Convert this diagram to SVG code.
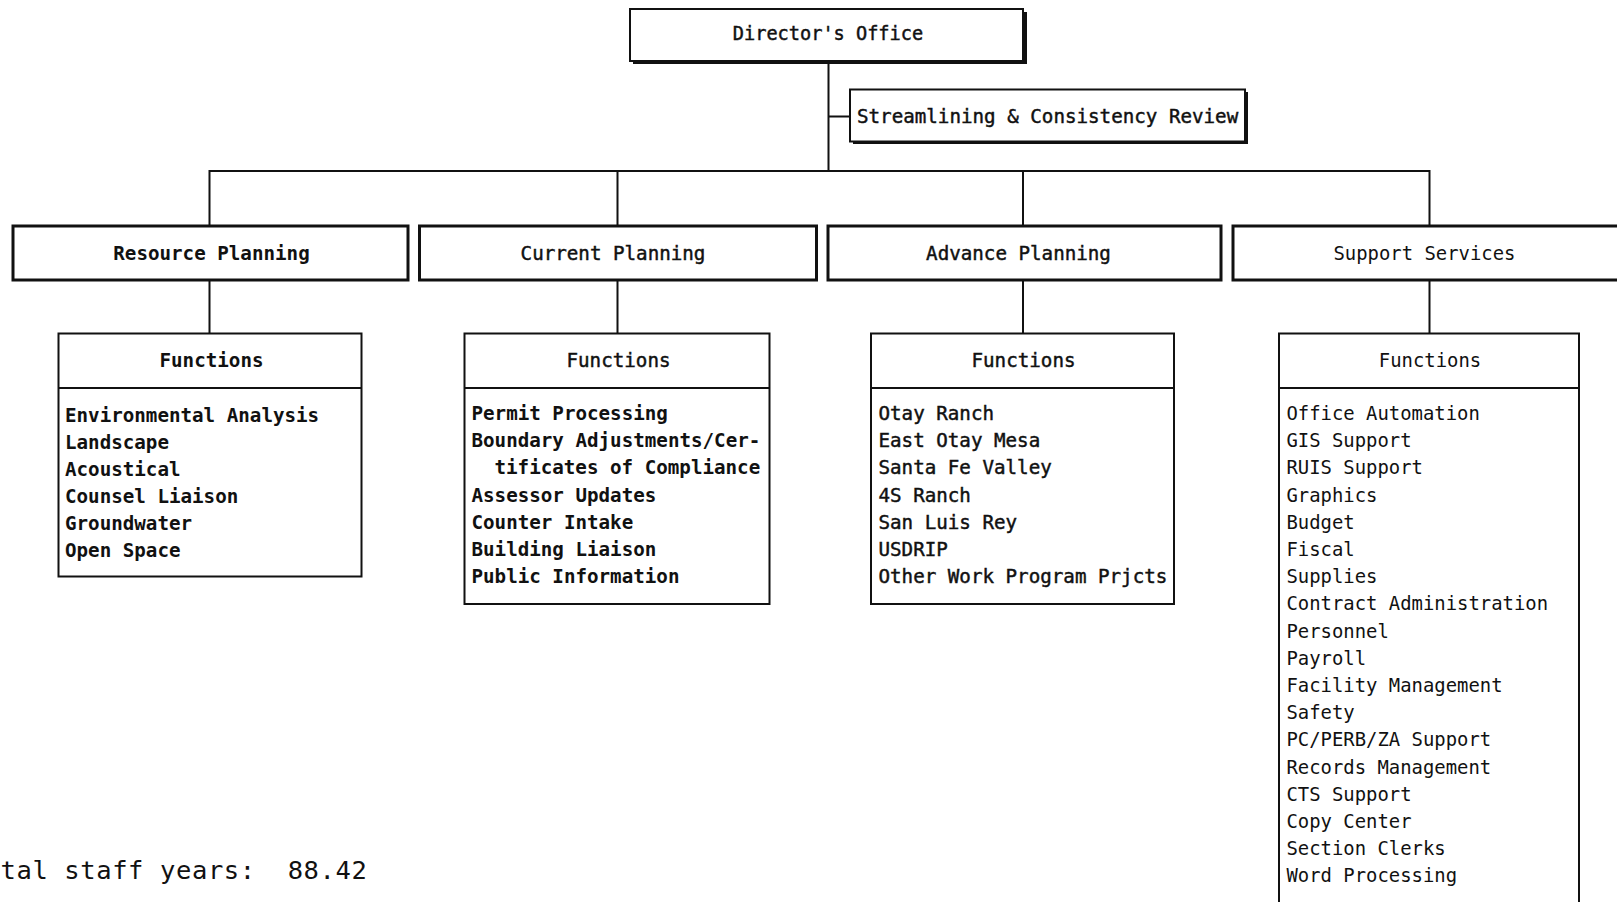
<svg xmlns="http://www.w3.org/2000/svg" width="1617" height="902" viewBox="0 0 1617 902">
  <style>
    text { font-family: "DejaVu Sans Mono", "Liberation Mono", monospace; font-size: 19.2px; fill: #111; }
    .c { text-anchor: middle; }
    .b { font-weight: bold; }
    .m { stroke: #111; stroke-width: 0.45px; }
    .s { font-size: 18.9px; }
    .box { fill: #fff; stroke: #111; stroke-width: 2px; }
    .unit { fill: #fff; stroke: #111; stroke-width: 3px; }
    .shadow { fill: #111; }
    .rule { stroke: #111; stroke-width: 2px; }
    .wire { fill: none; stroke: #111; stroke-width: 2px; }
  </style>

  <!-- connectors -->
  <g id="connectors">
    <path class="wire" d="M828.5 62 V171 M828.5 116.5 H850"/>
    <path class="wire" d="M209.5 226 V171 H1429.5 V226 M617.5 171 V226 M1023 171 V226"/>
    <path class="wire" d="M209.5 280 V333 M617.5 280 V333 M1023 280 V333 M1429.5 280 V333"/>
  </g>

  <!-- top level -->
  <g id="directors-office">
    <rect class="shadow" x="633" y="12" width="394" height="52"/>
    <rect class="box" x="630" y="9" width="393" height="52"/>
    <text class="c m" x="828" y="40" style="font-size:18.6px">Director's Office</text>
  </g>

  <g id="streamlining-review">
    <rect class="shadow" x="853" y="92" width="395" height="52"/>
    <rect class="box" x="850" y="89.5" width="395" height="52"/>
    <text class="m" x="857" y="122.5">Streamlining &amp; Consistency Review</text>
  </g>

  <!-- divisions -->
  <g id="resource-planning">
    <rect class="unit" x="13" y="226" width="395" height="54"/>
    <text class="c b" x="211.5" y="259.5">Resource Planning</text>
  </g>
  <g id="current-planning">
    <rect class="unit" x="419.5" y="226" width="397" height="54"/>
    <text class="c m" x="613" y="259.5">Current Planning</text>
  </g>
  <g id="advance-planning">
    <rect class="unit" x="828" y="226" width="393" height="54"/>
    <text class="c m" x="1018.5" y="259.5">Advance Planning</text>
  </g>
  <g id="support-services">
    <rect class="unit" x="1233" y="226" width="400" height="54"/>
    <text class="c s" x="1424.5" y="259.5">Support Services</text>
  </g>

  <!-- function lists -->
  <g id="resource-planning-functions">
    <rect class="box" x="58.5" y="333.5" width="303" height="243"/>
    <line class="rule" x1="58.5" y1="388" x2="361.5" y2="388"/>
    <text class="c b" x="211.5" y="366.5">Functions</text>
    <text class="b" x="65" y="421.5">Environmental Analysis</text>
    <text class="b" x="65" y="448.5">Landscape</text>
    <text class="b" x="65" y="475.7">Acoustical</text>
    <text class="b" x="65" y="502.9">Counsel Liaison</text>
    <text class="b" x="65" y="530">Groundwater</text>
    <text class="b" x="65" y="557">Open Space</text>
  </g>

  <g id="current-planning-functions">
    <rect class="box" x="464.5" y="333.5" width="305" height="270.5"/>
    <line class="rule" x1="464.5" y1="388" x2="769.5" y2="388"/>
    <text class="c m" x="618.5" y="366.5">Functions</text>
    <text class="b" x="471.5" y="420">Permit Processing</text>
    <text class="b" x="471.5" y="447.2">Boundary Adjustments/Cer-</text>
    <text class="b" x="494.5" y="474.4">tificates of Compliance</text>
    <text class="b" x="471.5" y="501.6">Assessor Updates</text>
    <text class="b" x="471.5" y="528.8">Counter Intake</text>
    <text class="b" x="471.5" y="556">Building Liaison</text>
    <text class="b" x="471.5" y="583.2">Public Information</text>
  </g>

  <g id="advance-planning-functions">
    <rect class="box" x="871" y="333.5" width="303" height="270.5"/>
    <line class="rule" x1="871" y1="388" x2="1174" y2="388"/>
    <text class="c m" x="1023.5" y="366.5">Functions</text>
    <text class="m" x="878.5" y="420">Otay Ranch</text>
    <text class="m" x="878.5" y="447.2">East Otay Mesa</text>
    <text class="m" x="878.5" y="474.4">Santa Fe Valley</text>
    <text class="m" x="878.5" y="501.6">4S Ranch</text>
    <text class="m" x="878.5" y="528.8">San Luis Rey</text>
    <text class="m" x="878.5" y="556">USDRIP</text>
    <text class="m" x="878.5" y="583.2">Other Work Program Prjcts</text>
  </g>

  <g id="support-services-functions">
    <rect class="box" x="1279" y="333.5" width="300" height="600"/>
    <line class="rule" x1="1279" y1="388" x2="1579" y2="388"/>
    <text class="c s" x="1430" y="366.5">Functions</text>
    <text class="s" x="1286.5" y="420">Office Automation</text>
    <text class="s" x="1286.5" y="447.2">GIS Support</text>
    <text class="s" x="1286.5" y="474.4">RUIS Support</text>
    <text class="s" x="1286.5" y="501.6">Graphics</text>
    <text class="s" x="1286.5" y="528.8">Budget</text>
    <text class="s" x="1286.5" y="556">Fiscal</text>
    <text class="s" x="1286.5" y="583.2">Supplies</text>
    <text class="s" x="1286.5" y="610.4">Contract Administration</text>
    <text class="s" x="1286.5" y="637.6">Personnel</text>
    <text class="s" x="1286.5" y="664.8">Payroll</text>
    <text class="s" x="1286.5" y="692">Facility Management</text>
    <text class="s" x="1286.5" y="719.2">Safety</text>
    <text class="s" x="1286.5" y="746.4">PC/PERB/ZA Support</text>
    <text class="s" x="1286.5" y="773.6">Records Management</text>
    <text class="s" x="1286.5" y="800.8">CTS Support</text>
    <text class="s" x="1286.5" y="828">Copy Center</text>
    <text class="s" x="1286.5" y="855.2">Section Clerks</text>
    <text class="s" x="1286.5" y="882.4">Word Processing</text>
  </g>

  <!-- staffing total -->
  <text id="staff-total" x="0.5" y="878.5" xml:space="preserve" style="font-size:25.5px;letter-spacing:0.6px">tal staff years:  88.42</text>
</svg>
